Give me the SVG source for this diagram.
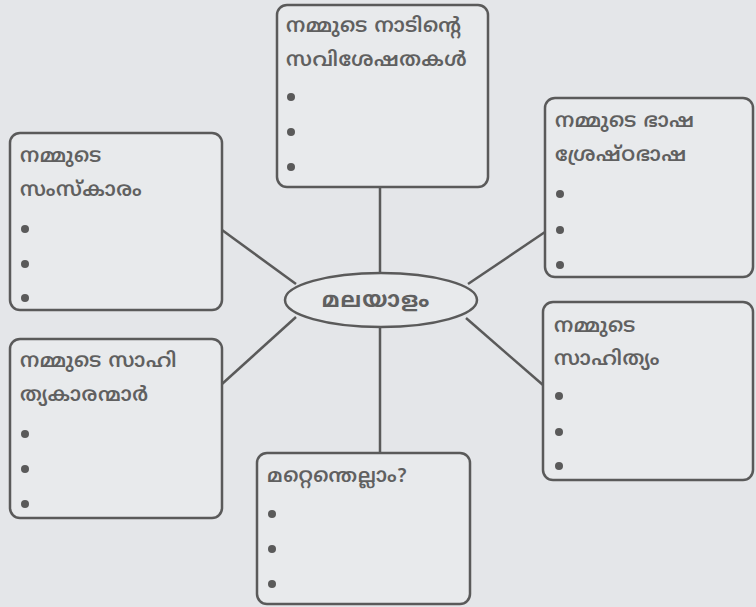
<svg xmlns="http://www.w3.org/2000/svg" width="756" height="607" viewBox="0 0 756 607">
<style>
.box{fill:#e8eaec;stroke:#5a5a5a;stroke-width:2.5}
.t{font-family:"Noto Sans Malayalam","Noto Sans","DejaVu Sans",sans-serif;font-size:20px;font-weight:600;letter-spacing:0.6px;fill:#606060}
.m{font-size:22px;font-weight:700;letter-spacing:1px}
.b{fill:#5a5a5a}
.c{stroke:#5a5a5a;stroke-width:2.5;fill:none}
</style>
<rect width="756" height="607" fill="#e4e6e9"/>
<g id="connectors">
<line class="c" x1="380" y1="187" x2="380" y2="273"/>
<line class="c" x1="380" y1="327" x2="380" y2="453"/>
<line class="c" x1="222" y1="230" x2="296" y2="284"/>
<line class="c" x1="545" y1="232" x2="468" y2="284"/>
<line class="c" x1="222" y1="384" x2="296" y2="317"/>
<line class="c" x1="543" y1="385" x2="466" y2="318"/>
</g>
<g id="center">
<ellipse cx="381" cy="300" rx="96" ry="27" fill="#e8eaec" stroke="#5a5a5a" stroke-width="2.5"/>
<text class="t m" x="376" y="307" text-anchor="middle">മലയാളം</text>
</g>
<g id="top">
<rect class="box" x="277" y="5" width="211" height="182" rx="10"/>
<text class="t" x="286" y="32">നമ്മുടെ നാടിന്റെ</text>
<text class="t" x="286" y="66">സവിശേഷതകൾ</text>
<circle class="b" cx="291" cy="97" r="4"/>
<circle class="b" cx="291" cy="132" r="4"/>
<circle class="b" cx="291" cy="167" r="4"/>
</g>
<g id="left-top">
<rect class="box" x="10" y="133" width="212" height="177" rx="10"/>
<text class="t" x="20" y="162">നമ്മുടെ</text>
<text class="t" x="20" y="196">സംസ്കാരം</text>
<circle class="b" cx="25" cy="229" r="4"/>
<circle class="b" cx="25" cy="264" r="4"/>
<circle class="b" cx="25" cy="298" r="4"/>
</g>
<g id="right-top">
<rect class="box" x="545" y="98" width="208" height="179" rx="10"/>
<text class="t" x="555" y="127">നമ്മുടെ ഭാഷ</text>
<text class="t" x="555" y="161">ശ്രേഷ്ഠഭാഷ</text>
<circle class="b" cx="560" cy="194" r="4"/>
<circle class="b" cx="560" cy="230" r="4"/>
<circle class="b" cx="560" cy="265" r="4"/>
</g>
<g id="left-bottom">
<rect class="box" x="10" y="339" width="212" height="179" rx="10"/>
<text class="t" x="20" y="367">നമ്മുടെ സാഹി</text>
<text class="t" x="20" y="401">ത്യകാരന്മാർ</text>
<circle class="b" cx="25" cy="434" r="4"/>
<circle class="b" cx="25" cy="469" r="4"/>
<circle class="b" cx="25" cy="504" r="4"/>
</g>
<g id="right-bottom">
<rect class="box" x="543" y="302" width="210" height="178" rx="10"/>
<text class="t" x="554" y="332">നമ്മുടെ</text>
<text class="t" x="554" y="365">സാഹിത്യം</text>
<circle class="b" cx="559" cy="396" r="4"/>
<circle class="b" cx="559" cy="432" r="4"/>
<circle class="b" cx="559" cy="466" r="4"/>
</g>
<g id="bottom">
<rect class="box" x="257" y="453" width="213" height="151" rx="10"/>
<text class="t" x="267" y="482">മറ്റെന്തെല്ലാം?</text>
<circle class="b" cx="272" cy="514" r="4"/>
<circle class="b" cx="272" cy="549" r="4"/>
<circle class="b" cx="272" cy="584" r="4"/>
</g>
</svg>
